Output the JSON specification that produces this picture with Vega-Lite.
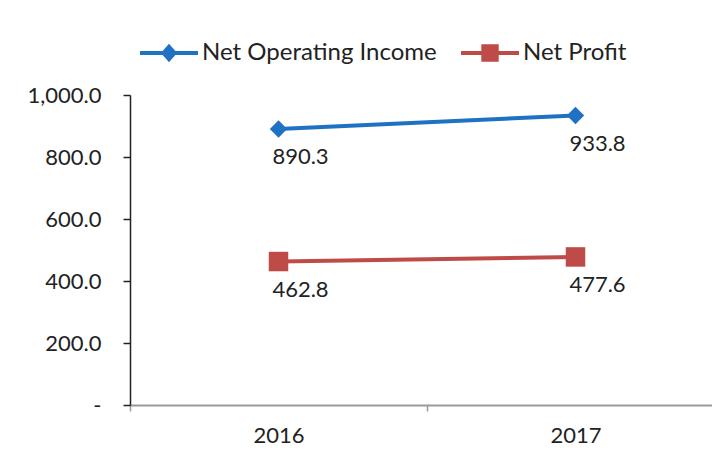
{
  "$schema": "https://vega.github.io/schema/vega-lite/v6.json",
  "autosize": "none",
  "padding": {"left": 130, "top": 95, "right": 0, "bottom": 47},
  "width": 594,
  "height": 310,
  "background": "white",
  "config": {"font": "Lato", "view": {"stroke": null}},
  "data": {"values": [
    {"year": "2016", "series": "Net Operating Income", "value": 890.3},
    {"year": "2017", "series": "Net Operating Income", "value": 933.8},
    {"year": "2016", "series": "Net Profit", "value": 462.8},
    {"year": "2017", "series": "Net Profit", "value": 477.6}
  ]},
  "encoding": {
    "x": {"field": "year", "type": "ordinal", "bandPosition": 0.5,
      "scale": {"type": "band", "paddingInner": 0, "paddingOuter": 0},
      "axis": {"title": null, "labelAngle": 0, "labelFontSize": 22, "labelColor": "#222", "labelPadding": 14,
        "domainColor": "#999", "domainWidth": 2, "tickBand": "extent", "tickColor": "#999", "tickSize": 6, "tickWidth": 1.5}},
    "y": {"field": "value", "type": "quantitative",
      "scale": {"domain": [0, 1000], "nice": false},
      "axis": {"title": null, "values": [0, 200, 400, 600, 800, 1000], "grid": false,
        "labelExpr": "datum.value == 0 ? '-' : format(datum.value, ',.1f')",
        "labelFontSize": 22, "labelColor": "#222", "labelPadding": 22,
        "domainColor": "#222", "domainWidth": 1.5, "tickColor": "#222", "tickSize": 7, "tickWidth": 1.5}}
  },
  "layer": [
    {"mark": {"type": "line", "strokeWidth": 4},
      "encoding": {"color": {"field": "series", "type": "nominal",
        "scale": {"domain": ["Net Operating Income", "Net Profit"], "range": ["#1F71C4", "#BF4B48"]},
        "legend": {"title": null, "orient": "none", "legendX": 10, "legendY": -71, "direction": "horizontal",
          "labelFontSize": 24, "labelColor": "#222", "labelOffset": 4, "columnPadding": 24, "labelLimit": 400,
          "symbolSize": 3364, "symbolStrokeWidth": 0,
          "encode": {"symbols": {"update": {
            "shape": {"signal": "datum.value === 'Net Profit' ? 'M-1,-0.07L1,-0.07L1,0.07L-1,0.07Z M-0.3,-0.3L0.3,-0.3L0.3,0.3L-0.3,0.3Z' : 'M-1,-0.07L1,-0.07L1,0.07L-1,0.07Z M0,-0.32L0.28,0L0,0.32L-0.28,0Z'"},
            "fill": {"signal": "datum.value === 'Net Profit' ? '#BF4B48' : '#1F71C4'"},
            "strokeWidth": {"value": 0}}}}}}}},
    {"transform": [{"filter": "datum.series === 'Net Operating Income'"}],
      "mark": {"type": "point", "filled": true, "opacity": 1, "shape": "diamond", "size": 300, "color": "#1F71C4"}},
    {"transform": [{"filter": "datum.series === 'Net Profit'"}],
      "mark": {"type": "point", "filled": true, "opacity": 1, "shape": "square", "size": 380, "color": "#BF4B48"}},
    {"mark": {"type": "text", "dx": 22, "dy": 28, "fontSize": 22, "color": "#222"},
      "encoding": {"text": {"field": "value", "type": "quantitative", "format": ".1f"}}}
  ]
}
